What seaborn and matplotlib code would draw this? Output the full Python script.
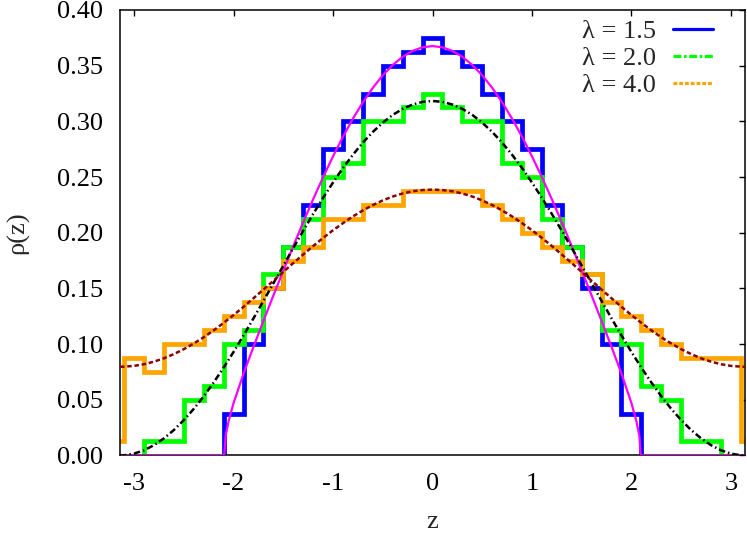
import numpy as np
import pandas as pd
import matplotlib
matplotlib.use("Agg")
import matplotlib.pyplot as plt
from matplotlib.lines import Line2D
import seaborn as sns

# ---------------- data ----------------
bin_centers = [-3.2, -3.0, -2.8, -2.6, -2.4, -2.2, -2.0, -1.8, -1.6, -1.4, -1.2, -1.0,
               -0.8, -0.6, -0.4, -0.2, 0.0, 0.2, 0.4, 0.6, 0.8, 1.0, 1.2, 1.4, 1.6,
               1.8, 2.0, 2.2, 2.4, 2.6, 2.8, 3.0, 3.2]
hist_lam15 = [0, 0, 0, 0, 0, 0, 0.0375, 0.1, 0.15, 0.1875, 0.225, 0.275, 0.3, 0.325,
              0.35, 0.3625, 0.375, 0.3625, 0.35, 0.325, 0.3, 0.275, 0.225, 0.1875,
              0.15, 0.1, 0.0375, 0, 0, 0, 0, 0, 0]
hist_lam20 = [0, 0, 0.0125, 0.0125, 0.05, 0.0625, 0.1, 0.1125, 0.1625, 0.1875, 0.2125,
              0.25, 0.2625, 0.3, 0.3, 0.3125, 0.325, 0.3125, 0.3, 0.3, 0.2625, 0.25,
              0.2125, 0.1875, 0.1625, 0.1125, 0.1, 0.0625, 0.05, 0.0125, 0.0125, 0, 0]
hist_lam40 = [0.0125, 0.0875, 0.075, 0.1, 0.1, 0.1125, 0.125, 0.1375, 0.15, 0.175,
              0.1875, 0.2125, 0.2125, 0.225, 0.225, 0.2375, 0.2375, 0.2375, 0.2375,
              0.225, 0.2125, 0.2, 0.1875, 0.175, 0.1625, 0.1375, 0.125, 0.1125, 0.1,
              0.0875, 0.0875, 0.0875, 0.0125]

curve_z = [-3.1416, -3.1, -3.0, -2.9, -2.8, -2.7, -2.6, -2.5, -2.4, -2.3, -2.2, -2.1,
           -2.0, -1.9, -1.8, -1.7, -1.6, -1.5, -1.4, -1.3, -1.2, -1.1, -1.0, -0.9,
           -0.8, -0.7, -0.6, -0.5, -0.4, -0.3, -0.2, -0.1, 0.0, 0.1, 0.2, 0.3, 0.4,
           0.5, 0.6, 0.7, 0.8, 0.9, 1.0, 1.1, 1.2, 1.3, 1.4, 1.5, 1.6, 1.7, 1.8, 1.9,
           2.0, 2.1, 2.2, 2.3, 2.4, 2.5, 2.6, 2.7, 2.8, 2.9, 3.0, 3.1, 3.1416]
rho_lam40 = [0.0796, 0.0797, 0.0804, 0.0819, 0.0842, 0.0872, 0.0910, 0.0954, 0.1005,
             0.1061, 0.1123, 0.1190, 0.1260, 0.1334, 0.1411, 0.1489, 0.1568, 0.1648,
             0.1727, 0.1804, 0.1880, 0.1953, 0.2022, 0.2086, 0.2146, 0.2200, 0.2248,
             0.2290, 0.2325, 0.2352, 0.2372, 0.2383, 0.2387, 0.2383, 0.2372, 0.2352,
             0.2325, 0.2290, 0.2248, 0.2200, 0.2146, 0.2086, 0.2022, 0.1953, 0.1880,
             0.1804, 0.1727, 0.1648, 0.1568, 0.1489, 0.1411, 0.1334, 0.1260, 0.1190,
             0.1123, 0.1061, 0.1005, 0.0954, 0.0910, 0.0872, 0.0842, 0.0819, 0.0804,
             0.0797, 0.0796]
rho_lam20 = [0.0, 0.0001, 0.0016, 0.0046, 0.0092, 0.0153, 0.0228, 0.0317, 0.0418,
             0.0531, 0.0655, 0.0788, 0.0929, 0.1077, 0.1230, 0.1387, 0.1545, 0.1704,
             0.1862, 0.2017, 0.2168, 0.2313, 0.2451, 0.2581, 0.2700, 0.2809, 0.2905,
             0.2988, 0.3058, 0.3112, 0.3151, 0.3175, 0.3183, 0.3175, 0.3151, 0.3112,
             0.3058, 0.2988, 0.2905, 0.2809, 0.2700, 0.2581, 0.2451, 0.2313, 0.2168,
             0.2017, 0.1862, 0.1704, 0.1545, 0.1387, 0.1230, 0.1077, 0.0929, 0.0788,
             0.0655, 0.0531, 0.0418, 0.0317, 0.0228, 0.0153, 0.0092, 0.0046, 0.0016,
             0.0001, 0.0]

curve_z15 = [-3.1416, -2.094, -2.08, -2.05, -2.0, -1.9, -1.8, -1.7, -1.6, -1.5, -1.4,
             -1.3, -1.2, -1.1, -1.0, -0.9, -0.8, -0.7, -0.6, -0.5, -0.4, -0.3, -0.2,
             -0.1, 0.0, 0.1, 0.2, 0.3, 0.4, 0.5, 0.6, 0.7, 0.8, 0.9, 1.0, 1.1, 1.2,
             1.3, 1.4, 1.5, 1.6, 1.7, 1.8, 1.9, 2.0, 2.05, 2.08, 2.094, 3.1416]
rho_lam15 = [0.0, 0.0, 0.0174, 0.0307, 0.0470, 0.0734, 0.0974, 0.1207, 0.1435, 0.1659,
             0.1879, 0.2093, 0.2300, 0.2498, 0.2686, 0.2862, 0.3024, 0.3171, 0.3301,
             0.3413, 0.3506, 0.3580, 0.3633, 0.3665, 0.3676, 0.3665, 0.3633, 0.3580,
             0.3506, 0.3413, 0.3301, 0.3171, 0.3024, 0.2862, 0.2686, 0.2498, 0.2300,
             0.2093, 0.1879, 0.1659, 0.1435, 0.1207, 0.0974, 0.0734, 0.0470, 0.0307,
             0.0174, 0.0, 0.0]

legend_labels = ["λ = 1.5", "λ = 2.0", "λ = 4.0"]
x_ticks = [-3, -2, -1, 0, 1, 2, 3]
y_ticks = [0.00, 0.05, 0.10, 0.15, 0.20, 0.25, 0.30, 0.35, 0.40]


def step_frame(centers, values):
    c = np.asarray(centers, float)
    v = np.asarray(values, float)
    nz = np.nonzero(v)[0]
    c = c[nz[0]:nz[-1] + 1]
    v = v[nz[0]:nz[-1] + 1]
    half = np.diff(c).mean() / 2.0
    xs = np.concatenate([[c[0] - half], np.column_stack([c - half, c + half]).ravel(),
                         [c[-1] + half]])
    ys = np.concatenate([[0.0], np.repeat(v, 2), [0.0]])
    return pd.DataFrame({"z": xs, "rho": ys})


# ---------------- style ----------------
sns.set_style("white")
plt.rcParams["font.family"] = ["Liberation Serif", "DejaVu Serif"]
plt.rcParams["axes.unicode_minus"] = False

FS = 19
fig = plt.figure(figsize=(7.47, 5.33), dpi=100)
ax = fig.add_axes([120 / 747, 77.6 / 533, 625 / 747, 445.4 / 533])

HW = 3.4
blue, green, orange = "#0000ff", "#00ff00", "#ffa500"

for vals, col in [(hist_lam15, blue), (hist_lam20, green), (hist_lam40, orange)]:
    df = step_frame(bin_centers, vals)
    sns.lineplot(data=df, x="z", y="rho", sort=False, estimator=None, ax=ax,
                 color=col, linewidth=HW, solid_joinstyle="miter",
                 solid_capstyle="butt", zorder=2)

sns.lineplot(x=curve_z15, y=rho_lam15, sort=False, estimator=None, ax=ax,
             color="#ff00ff", linewidth=1.6, zorder=3)
sns.lineplot(x=curve_z, y=rho_lam20, sort=False, estimator=None, ax=ax,
             color="black", linewidth=1.8, linestyle=(0, (2.6, 1.2, 0.6, 1.2)), zorder=3)
sns.lineplot(x=curve_z, y=rho_lam40, sort=False, estimator=None, ax=ax,
             color="#8b0000", linewidth=1.8, linestyle=(0, (1.8, 1.1)), zorder=3)

ax.set_xlim(-np.pi, np.pi)
ax.set_ylim(0, 0.40)
ax.set_xticks(x_ticks)
ax.set_xticklabels([str(t) for t in x_ticks])
ax.set_yticks(y_ticks)
ax.set_yticklabels([f"{t:.2f}" for t in y_ticks])
ax.tick_params(direction="in", length=4.5, width=1.0, top=True, right=True,
               labelsize=FS, colors="black")
ax.tick_params(axis="x", pad=13)
ax.tick_params(axis="y", pad=12)
for s in ax.spines.values():
    s.set_visible(True)
    s.set_linewidth(1.1)
    s.set_color("black")

ax.set_xlabel("z", fontsize=FS, labelpad=11)
ax.set_ylabel("ρ(z)", fontsize=FS, labelpad=20)

handles = [Line2D([], [], color=blue, lw=2.3),
           Line2D([], [], color=green, lw=2.3, linestyle=(0, (2.5, 0.8, 0.8, 0.8))),
           Line2D([], [], color=orange, lw=2.3, linestyle=(0, (1.2, 0.6)))]
ax.legend(handles, legend_labels, loc="upper right", markerfirst=False, frameon=False,
          fontsize=FS, handlelength=1.52, handletextpad=0.64, labelspacing=0.12,
          borderpad=0, borderaxespad=0,
          bbox_to_anchor=(713 / 747, (533 - 20) / 533), bbox_transform=fig.transFigure)

fig.savefig("out.png", dpi=100)
